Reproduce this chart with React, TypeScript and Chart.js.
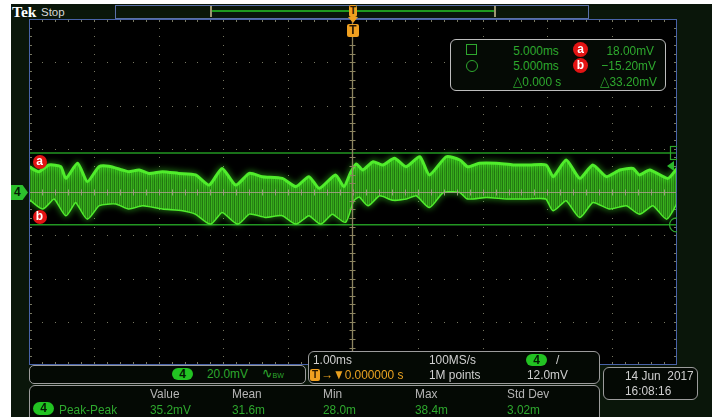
import React, { useEffect, useRef } from 'react';
import { Chart, registerables } from 'chart.js';

Chart.register(...registerables);

// ---------------- data ----------------
const timeRangeMs = [-5, 5];
const voltRangeMv = [-80, 80];
const msPerDiv = 1;
const mvPerDiv = 20;
const minorPerDiv = 5;

// upper edge of the noisy trace [time ms, mV]
const upperEnvelope: [number, number][] = [
  [-5.0, 11.7], [-4.85, 9.4], [-4.69, 12.5], [-4.51, 11.7], [-4.43, 6.3], [-4.25, 13.3],
  [-4.1, 4.8], [-3.92, 11.7], [-3.77, 11.9], [-3.56, 10.2], [-3.46, 9.4], [-3.3, 10.2],
  [-3.15, 8.6], [-2.94, 9.4], [-2.69, 8.6], [-2.43, 7.9], [-2.22, 3.2], [-2.02, 10.9],
  [-1.81, 3.2], [-1.6, 8.6], [-1.4, 7.1], [-1.09, 6.3], [-0.88, 2.5], [-0.68, 7.1],
  [-0.52, 1.7], [-0.27, 7.9], [-0.14, 2.5], [-0.04, 8.8], [0.05, 13.0], [0.15, 10.2],
  [0.31, 14.0], [0.46, 12.5], [0.64, 15.6], [0.82, 11.7], [1.03, 16.3], [1.18, 7.9],
  [1.44, 16.3], [1.65, 14.8], [1.77, 11.7], [1.95, 13.3], [2.21, 13.3], [2.47, 12.5],
  [2.73, 12.5], [2.98, 12.5], [3.09, 7.1], [3.29, 14.8], [3.5, 6.3], [3.7, 12.5],
  [3.91, 7.1], [4.12, 10.2], [4.32, 10.9], [4.42, 7.9], [4.58, 10.2], [4.86, 6.3], [5.0, 10.9],
];

// lower edge of the noisy trace [time ms, mV]
const lowerEnvelope: [number, number][] = [
  [-5.0, -2.9], [-4.79, -7.5], [-4.61, -2.9], [-4.43, -10.6], [-4.28, -4.5], [-4.1, -12.2],
  [-3.92, -6.0], [-3.66, -5.2], [-3.46, -7.5], [-3.25, -6.0], [-2.94, -7.5], [-2.63, -8.3],
  [-2.43, -9.9], [-2.2, -14.5], [-2.02, -9.1], [-1.78, -14.5], [-1.6, -9.9], [-1.35, -11.4],
  [-1.09, -10.6], [-0.88, -14.5], [-0.68, -10.6], [-0.5, -14.5], [-0.32, -9.9], [-0.12, -13.7],
  [0.0, -4.0], [0.1, -2.0], [0.23, -6.0], [0.41, -1.4], [0.62, -3.5], [0.82, -2.9],
  [0.98, -1.4], [1.18, -6.8], [1.39, 0.1], [1.65, 0.1], [1.77, -2.9], [2.06, -2.2],
  [2.37, -2.9], [2.67, -2.9], [2.98, -2.9], [3.09, -8.3], [3.29, -3.7], [3.5, -11.4],
  [3.7, -4.5], [3.96, -7.5], [4.22, -6.0], [4.42, -9.9], [4.63, -6.0], [4.84, -12.2], [5.0, -4.5],
];

const cursorAmv = 18.0;
const cursorBmv = -15.2;
const triggerLevelMv = 12.0;
const triggerTimeMs = 0;

const cursorTimes = ['5.000ms', '5.000ms', '\u25B30.000 s'];
const cursorVolts = ['18.00mV', '\u221215.20mV', '\u25B333.20mV'];
const measHeaders = ['Value', 'Mean', 'Min', 'Max', 'Std Dev'];
const measValues = ['35.2mV', '31.6m', '28.0m', '38.4m', '3.02m'];

// ---------------- styling helpers ----------------
const GREEN = '#2ea82e';
const GRAY_TXT = '#cfcfcf';
const FONT = '"Liberation Sans", Arial, sans-serif';

function Txt(props: any) {
  const { x, base, color = GREEN, size = 13.5, right = false, bold = false, family = FONT, sx = 0.88 } = props;
  const style: any = {
    position: 'absolute',
    top: base - 0.85 * size,
    fontSize: size,
    lineHeight: `${size}px`,
    color,
    fontFamily: family,
    fontWeight: bold ? 700 : 400,
    whiteSpace: 'pre',
    transform: `scaleX(${sx})`,
    transformOrigin: right ? 'right center' : 'left center',
  };
  if (right) style.right = 712 - x;
  else style.left = x;
  return <div style={style}>{props.children}</div>;
}

function Box(props: any) {
  const { x, y, w, h, r = 6, border = '#9c9c9c', bg = '#040904' } = props;
  return (
    <div
      style={{
        position: 'absolute', left: x, top: y, width: w, height: h,
        border: `1px solid ${border}`, borderRadius: r, background: bg, boxSizing: 'border-box',
      }}
    />
  );
}

function Pill(props: any) {
  const { x, y, w = 21, h = 12, label = '4' } = props;
  return (
    <div
      style={{
        position: 'absolute', left: x, top: y, width: w, height: h, borderRadius: h / 2,
        background: '#22c322', color: '#041a04', fontFamily: FONT, fontSize: 12, fontWeight: 700,
        lineHeight: `${h}px`, textAlign: 'center',
      }}
    >
      {label}
    </div>
  );
}

function RedDot(props: any) {
  const { cx, cy, d = 14, label } = props;
  return (
    <div
      style={{
        position: 'absolute', left: cx - d / 2, top: cy - d / 2, width: d, height: d, borderRadius: '50%',
        background: '#e31414', color: '#fff', fontFamily: FONT, fontWeight: 700, fontSize: 12,
        lineHeight: `${d - 1}px`, textAlign: 'center',
      }}
    >
      {label}
    </div>
  );
}

// ---------------- graticule plugin ----------------
const graticule = {
  id: 'graticule',
  beforeDraw(chart: any) {
    const { ctx, scales } = chart;
    const xs = scales.x;
    const ys = scales.y;
    const W = chart.width;
    const H = chart.height;
    ctx.save();
    ctx.fillStyle = '#000';
    ctx.fillRect(0, 0, W, H);
    ctx.fillStyle = 'rgb(120,120,98)';
    const cl = (v: number, m: number) => Math.max(0, Math.min(m - 1, Math.round(v)));
    const nx = (timeRangeMs[1] - timeRangeMs[0]) / msPerDiv;
    const ny = (voltRangeMv[1] - voltRangeMv[0]) / mvPerDiv;
    for (let i = 0; i <= nx; i++) {
      const px = cl(xs.getPixelForValue(timeRangeMs[0] + i * msPerDiv), W);
      for (let j = 0; j <= ny * minorPerDiv; j++) {
        const py = cl(ys.getPixelForValue(voltRangeMv[0] + (j * mvPerDiv) / minorPerDiv), H);
        ctx.fillRect(px, py, 1, 1);
      }
    }
    for (let j = 0; j <= ny; j++) {
      const py = cl(ys.getPixelForValue(voltRangeMv[0] + j * mvPerDiv), H);
      for (let i = 0; i <= nx * minorPerDiv; i++) {
        const px = cl(xs.getPixelForValue(timeRangeMs[0] + (i * msPerDiv) / minorPerDiv), W);
        ctx.fillRect(px, py, 1, 1);
      }
    }
    for (let i = 0; i <= nx * minorPerDiv; i++) {
      const px = cl(xs.getPixelForValue(timeRangeMs[0] + (i * msPerDiv) / minorPerDiv), W);
      ctx.fillRect(px, 0, 1, 3);
      ctx.fillRect(px, H - 3, 1, 3);
    }
    for (let j = 0; j <= ny * minorPerDiv; j++) {
      const py = cl(ys.getPixelForValue(voltRangeMv[0] + (j * mvPerDiv) / minorPerDiv), H);
      ctx.fillRect(0, py, 3, 1);
      ctx.fillRect(W - 3, py, 3, 1);
    }
    ctx.restore();
  },
  beforeDatasetDraw(chart: any, args: any) {
    if (args.index < 2) {
      const ctx = chart.ctx;
      ctx.save();
      ctx.shadowColor = 'rgba(70,255,40,0.75)';
      ctx.shadowBlur = 6;
    }
  },
  afterDatasetDraw(chart: any, args: any) {
    if (args.index < 2) chart.ctx.restore();
  },
  afterDatasetsDraw(chart: any) {
    const { ctx, scales } = chart;
    const xs = scales.x;
    const ys = scales.y;
    const W = chart.width;
    const H = chart.height;
    ctx.save();
    const y0 = Math.round(ys.getPixelForValue(0)) + 0.5;
    ctx.strokeStyle = 'rgba(160,158,132,0.9)';
    ctx.lineWidth = 1;
    ctx.beginPath();
    ctx.moveTo(0, y0);
    ctx.lineTo(W, y0);
    const nx = (timeRangeMs[1] - timeRangeMs[0]) / msPerDiv;
    const ny = (voltRangeMv[1] - voltRangeMv[0]) / mvPerDiv;
    for (let i = 0; i <= nx * minorPerDiv; i++) {
      const px = Math.round(xs.getPixelForValue(timeRangeMs[0] + (i * msPerDiv) / minorPerDiv)) + 0.5;
      ctx.moveTo(px, y0 - 3);
      ctx.lineTo(px, y0 + 3);
    }
    ctx.stroke();
    const xt = Math.round(xs.getPixelForValue(triggerTimeMs)) - 0.5;
    ctx.strokeStyle = 'rgb(140,132,96)';
    ctx.lineWidth = 1.3;
    ctx.beginPath();
    ctx.moveTo(xt, 0);
    ctx.lineTo(xt, H);
    ctx.stroke();
    ctx.lineWidth = 1;
    ctx.beginPath();
    for (let j = 0; j <= ny * minorPerDiv; j++) {
      const py = Math.round(ys.getPixelForValue(voltRangeMv[0] + (j * mvPerDiv) / minorPerDiv)) + 0.5;
      ctx.moveTo(xt - 3, py);
      ctx.lineTo(xt + 3, py);
    }
    ctx.stroke();
    ctx.strokeStyle = 'rgb(72,98,168)';
    ctx.strokeRect(0.5, 0.5, W - 1, H - 1);
    ctx.strokeStyle = '#2ea82e';
    ctx.lineWidth = 1.2;
    const ya = ys.getPixelForValue(cursorAmv);
    const yb = ys.getPixelForValue(cursorBmv);
    ctx.strokeRect(641.5, Math.round(ya) - 6.5, 8, 13);
    ctx.beginPath();
    ctx.arc(W - 0.5, yb, 7, 0, Math.PI * 2);
    ctx.stroke();
    const yt = ys.getPixelForValue(triggerLevelMv);
    ctx.fillStyle = '#2cb82c';
    ctx.beginPath();
    ctx.moveTo(W - 10, yt);
    ctx.lineTo(W - 3, yt - 5);
    ctx.lineTo(W - 3, yt + 5);
    ctx.closePath();
    ctx.fill();
    ctx.restore();
  },
};

export default function App() {
  const ref = useRef<HTMLCanvasElement | null>(null);

  useEffect(() => {
    const canvas = ref.current!;
    const pc = document.createElement('canvas');
    pc.width = 4;
    pc.height = 2;
    const pctx = pc.getContext('2d')!;
    ['rgb(52,165,27)', 'rgb(34,118,17)', 'rgb(58,178,30)', 'rgb(40,135,20)'].forEach((c, i) => {
      pctx.fillStyle = c;
      pctx.fillRect(i, 0, 1, 2);
    });
    const pattern = canvas.getContext('2d')!.createPattern(pc, 'repeat');

    const chart = new Chart(canvas, {
      type: 'line',
      data: {
        datasets: [
          {
            data: upperEnvelope.map(([x, y]) => ({ x, y })),
            borderColor: 'rgb(80,236,44)',
            borderWidth: 3,
            backgroundColor: pattern as any,
            fill: '+1',
            pointRadius: 0,
            tension: 0.2,
          },
          {
            data: lowerEnvelope.map(([x, y]) => ({ x, y })),
            borderColor: 'rgb(80,236,44)',
            borderWidth: 3,
            fill: false,
            pointRadius: 0,
            tension: 0.2,
          },
          {
            data: timeRangeMs.map((x) => ({ x, y: cursorAmv })),
            borderColor: 'rgb(34,150,34)',
            borderWidth: 1.5,
            pointRadius: 0,
            fill: false,
          },
          {
            data: timeRangeMs.map((x) => ({ x, y: cursorBmv })),
            borderColor: 'rgb(34,150,34)',
            borderWidth: 1.5,
            pointRadius: 0,
            fill: false,
          },
        ],
      },
      options: {
        animation: false,
        responsive: false,
        maintainAspectRatio: false,
        devicePixelRatio: 1,
        events: [],
        layout: { padding: 0 },
        plugins: { legend: { display: false }, tooltip: { enabled: false } },
        scales: {
          x: { type: 'linear', min: timeRangeMs[0], max: timeRangeMs[1], display: false },
          y: { type: 'linear', min: voltRangeMv[0], max: voltRangeMv[1], display: false },
        },
      },
      plugins: [graticule as any],
    });
    return () => chart.destroy();
  }, []);

  const measX = [150, 231.7, 323.3, 415, 506.7];

  return (
    <div style={{ position: 'fixed', left: 0, top: 0, width: 712, height: 417, background: '#fff', overflow: 'hidden' }}>
      <div style={{ position: 'absolute', left: 11, top: 4, width: 701, height: 413, background: '#0a160a' }} />

      {/* top bar */}
      <Txt x={12} base={17} color="#ffffff" size={15.5} bold family='"Liberation Serif", serif' sx={1}>Tek</Txt>
      <Txt x={41} base={16.7} color="#d8d8d8" size={11.5} sx={1}>Stop</Txt>
      <div style={{ position: 'absolute', left: 115, top: 5, width: 474, height: 14, border: '1px solid #5a70a8', boxSizing: 'border-box' }} />
      <div style={{ position: 'absolute', left: 211, top: 10, width: 284, height: 2, background: '#1f9a1f' }} />
      <div style={{ position: 'absolute', left: 210, top: 6, width: 2, height: 11, background: '#9c9670' }} />
      <div style={{ position: 'absolute', left: 494, top: 6, width: 2, height: 11, background: '#9c9670' }} />

      {/* chart */}
      <canvas ref={ref} width={648} height={346} style={{ position: 'absolute', left: 29, top: 19, width: 648, height: 346 }} />

      {/* trigger markers */}
      <div style={{ position: 'absolute', left: 349, top: 5, width: 8, height: 12, background: '#f0a020', borderRadius: 2, color: '#2a1800', fontFamily: FONT, fontSize: 10, fontWeight: 700, lineHeight: '12px', textAlign: 'center' }}>T</div>
      <div style={{ position: 'absolute', left: 348, top: 17, width: 0, height: 0, borderLeft: '5px solid transparent', borderRight: '5px solid transparent', borderTop: '6px solid #f0a020' }} />
      <div style={{ position: 'absolute', left: 347, top: 24, width: 12, height: 13, background: '#f0a020', borderRadius: 2, color: '#2a1800', fontFamily: FONT, fontSize: 12, fontWeight: 700, lineHeight: '13px', textAlign: 'center' }}>T</div>

      {/* channel marker */}
      <div style={{ position: 'absolute', left: 11, top: 185, width: 17, height: 15, background: '#2cc02c', clipPath: 'polygon(0 0, 68% 0, 100% 50%, 68% 100%, 0 100%)', color: '#062006', fontFamily: FONT, fontSize: 12, fontWeight: 700, lineHeight: '15px', paddingLeft: 3, boxSizing: 'border-box' }}>4</div>

      {/* cursor labels on plot */}
      <RedDot cx={39.5} cy={161.5} label="a" />
      <RedDot cx={39.5} cy={216.5} label="b" />

      {/* cursor readout box */}
      <Box x={450} y={39} w={216} h={52} r={6} border="#bdbdbd" bg="#050a05" />
      <div style={{ position: 'absolute', left: 466, top: 44, width: 11, height: 11, border: `1.5px solid ${GREEN}`, boxSizing: 'border-box' }} />
      <div style={{ position: 'absolute', left: 466, top: 60, width: 12, height: 12, border: `1.5px solid ${GREEN}`, borderRadius: '50%', boxSizing: 'border-box' }} />
      <Txt x={559} base={55} right>{cursorTimes[0]}</Txt>
      <Txt x={559} base={70.7} right>{cursorTimes[1]}</Txt>
      <Txt x={561} base={86.7} right>{cursorTimes[2]}</Txt>
      <RedDot cx={580.5} cy={49.5} d={15} label="a" />
      <RedDot cx={580.5} cy={65.7} d={15} label="b" />
      <Txt x={654} base={55} right>{cursorVolts[0]}</Txt>
      <Txt x={656} base={70.7} right>{cursorVolts[1]}</Txt>
      <Txt x={657} base={86.7} right>{cursorVolts[2]}</Txt>

      {/* channel box */}
      <Box x={29} y={365} w={277} h={19} r={5} />
      <Pill x={172} y={368} w={21} h={12} />
      <Txt x={207} base={378.7}>20.0mV</Txt>
      <Txt x={262} base={378.7}>{'\u223F'}<span style={{ fontSize: 8 }}>BW</span></Txt>

      {/* horizontal / trigger box */}
      <Box x={308} y={351} w={292} h={33} r={6} />
      <Txt x={312.5} base={364} color={GRAY_TXT}>1.00ms</Txt>
      <div style={{ position: 'absolute', left: 310, top: 369, width: 10, height: 12, background: '#f0a020', borderRadius: 2, color: '#2a1800', fontFamily: FONT, fontSize: 10, fontWeight: 700, lineHeight: '12px', textAlign: 'center' }}>T</div>
      <Txt x={321} base={379} color="#e8a020">{'\u2192\u25BC0.000000 s'}</Txt>
      <Txt x={429.3} base={364} color={GRAY_TXT}>100MS/s</Txt>
      <Txt x={429.3} base={379} color={GRAY_TXT}>1M points</Txt>
      <Pill x={526} y={354} w={21} h={12} />
      <Txt x={556} base={364} color={GRAY_TXT}>/</Txt>
      <Txt x={527} base={379} color={GRAY_TXT}>12.0mV</Txt>

      {/* date box */}
      <Box x={603} y={367} w={95} h={33} r={6} />
      <Txt x={625} base={380} color={GRAY_TXT}>{'14 Jun  2017'}</Txt>
      <Txt x={625} base={395.7} color={GRAY_TXT}>16:08:16</Txt>

      {/* measurement box */}
      <Box x={29} y={385} w={571} h={40} r={6} />
      {measHeaders.map((h, i) => (
        <Txt key={'h' + i} x={measX[i]} base={398.3} color="#b5b5b5">{h}</Txt>
      ))}
      <Pill x={33} y={402} w={21} h={13} />
      <Txt x={58.7} base={414}>Peak-Peak</Txt>
      {measValues.map((v, i) => (
        <Txt key={'v' + i} x={measX[i]} base={414}>{v}</Txt>
      ))}
    </div>
  );
}
